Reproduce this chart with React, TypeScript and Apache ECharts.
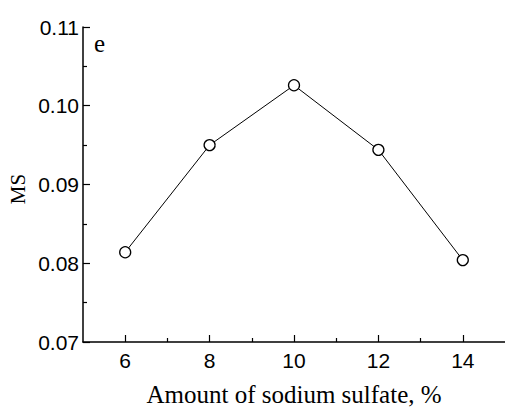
import React, { useEffect, useRef } from "react";
import * as echarts from "echarts";

const xValues = [6, 8, 10, 12, 14];
const msValues = [0.0814, 0.095, 0.1026, 0.0944, 0.0804];
const xMajorTicks = [6, 8, 10, 12, 14];
const xMinorTicks = [7, 9, 11, 13];
const xTitle = "Amount of sodium sulfate, %";
const yTitle = "MS";
const panelLabel = "e";

const serif = "'Times New Roman', 'Liberation Serif', serif";
const sans = "Arial, 'Liberation Sans', sans-serif";

export default function App() {
  const ref = useRef<HTMLDivElement>(null);
  useEffect(() => {
    document.body.style.margin = "0";
    document.body.style.overflow = "hidden";
    if (!ref.current) return;
    const chart = echarts.init(ref.current, null, { renderer: "svg" });
    const axisLine = { show: true, lineStyle: { color: "#000", width: 1.5 } };
    chart.setOption({
      animation: false,
      backgroundColor: "#fff",
      grid: { left: 83, top: 27, right: -6, bottom: 65, containLabel: false },
      xAxis: [
        {
          type: "value",
          min: 5,
          max: 15,
          axisLine,
          axisTick: {
            show: true,
            inside: true,
            length: 7,
            customValues: xMajorTicks,
            lineStyle: { color: "#000", width: 1.2 },
          },
          axisLabel: {
            customValues: xMajorTicks,
            color: "#000",
            fontSize: 21,
            fontFamily: sans,
            margin: 8,
          },
          splitLine: { show: false },
        },
        {
          type: "value",
          min: 5,
          max: 15,
          position: "bottom",
          axisLine: { show: false },
          axisTick: {
            show: true,
            inside: true,
            length: 4,
            customValues: xMinorTicks,
            lineStyle: { color: "#000", width: 1.2 },
          },
          axisLabel: { show: false },
          splitLine: { show: false },
        },
      ],
      yAxis: {
        type: "value",
        min: 0.07,
        max: 0.11,
        interval: 0.01,
        axisLine,
        axisTick: {
          show: true,
          inside: true,
          length: 7,
          lineStyle: { color: "#000", width: 1.2 },
        },
        minorTick: {
          show: true,
          splitNumber: 2,
          length: 4,
          lineStyle: { color: "#000", width: 1.2 },
        },
        axisLabel: {
          color: "#000",
          fontSize: 21,
          fontFamily: sans,
          margin: 4,
          formatter: (v: number) => v.toFixed(2),
        },
        splitLine: { show: false },
      },
      graphic: [
        {
          type: "text",
          x: 294,
          y: 394,
          style: {
            text: xTitle,
            fontSize: 25,
            fontFamily: serif,
            fill: "#000",
            align: "center",
            verticalAlign: "middle",
          },
        },
        {
          type: "text",
          x: 18,
          y: 189,
          rotation: Math.PI / 2,
          style: {
            text: yTitle,
            fontSize: 21,
            fontFamily: serif,
            fill: "#000",
            align: "center",
            verticalAlign: "middle",
          },
        },
        {
          type: "text",
          x: 94,
          y: 43.5,
          style: {
            text: panelLabel,
            fontSize: 25,
            fontFamily: serif,
            fill: "#000",
            align: "left",
            verticalAlign: "middle",
          },
        },
      ],
      series: [
        {
          type: "line",
          xAxisIndex: 0,
          data: xValues.map((x, i) => [x, msValues[i]]),
          symbol: "circle",
          symbolSize: 11,
          showSymbol: true,
          lineStyle: { color: "#000", width: 1 },
          itemStyle: { color: "#fff", borderColor: "#000", borderWidth: 1.3 },
          z: 3,
        },
      ],
    });
    return () => chart.dispose();
  }, []);
  return <div ref={ref} style={{ width: 505, height: 407 }} />;
}
